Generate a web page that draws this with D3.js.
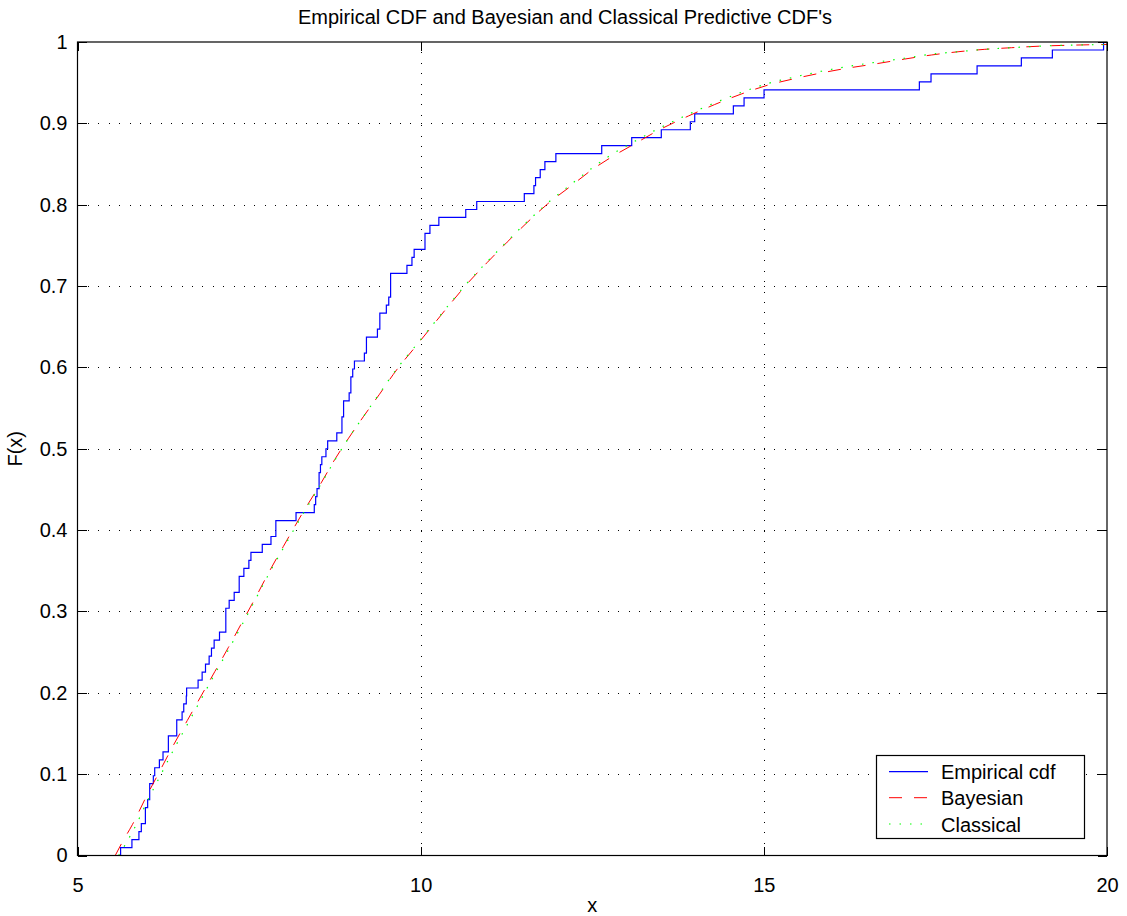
<!DOCTYPE html>
<html>
<head>
<meta charset="utf-8">
<script src="https://cdn.jsdelivr.net/npm/d3@7"></script>
<style>
  body { margin: 0; background: #fff; }
  svg { display: block; }
  text { font-family: Arial, "Liberation Sans", Helvetica, sans-serif; }
</style>
</head>
<body>
<div id="chart"></div>
<script>
// sorted sample values (ties repeated)
const empirical = [
  5.628, 5.793, 5.895, 5.930, 5.989, 5.989, 6.022, 6.052, 6.052, 6.105,
  6.125, 6.193, 6.246, 6.324, 6.324, 6.446, 6.446, 6.524, 6.548, 6.585,
  6.590, 6.757, 6.816, 6.865, 6.918, 6.952, 6.991, 7.069, 7.161, 7.161,
  7.161, 7.210, 7.283, 7.356, 7.356, 7.424, 7.497, 7.527, 7.692, 7.819,
  7.890, 7.890, 8.184, 8.450, 8.470, 8.490, 8.520, 8.520, 8.540, 8.560,
  8.620, 8.645, 8.778, 8.853, 8.853, 8.877, 8.877, 8.958, 8.983, 8.983,
  9.010, 9.035, 9.180, 9.210, 9.210, 9.370, 9.405, 9.405, 9.500, 9.535,
  9.562, 9.562, 9.562, 9.800, 9.873, 9.905, 10.063, 10.063, 10.135, 10.265,
  10.657, 10.817, 11.510, 11.650, 11.674, 11.742, 11.810, 11.970, 12.638, 13.075,
  13.506, 13.929, 13.993, 14.556, 14.712, 15.003, 17.266, 17.436, 18.107, 18.752,
  19.204, 19.950
];

// predictive cdf curves, [x, F(x)]
const bayesian = [
  [5.55, 0], [5.65, 0.016], [5.8, 0.038], [6.0, 0.072], [6.2, 0.104], [6.4, 0.136],
  [6.6, 0.166], [6.8, 0.196], [7.0, 0.226], [7.2, 0.256], [7.4, 0.287], [7.6, 0.318],
  [7.8, 0.350], [8.0, 0.380], [8.3, 0.424], [8.55, 0.458], [8.75, 0.487], [8.95, 0.513],
  [9.17, 0.540], [9.4, 0.567], [9.65, 0.597], [9.92, 0.625], [10.17, 0.651], [10.43, 0.678],
  [10.68, 0.703], [10.97, 0.729], [11.26, 0.754], [11.55, 0.778], [11.85, 0.801], [12.19, 0.823],
  [12.48, 0.842], [12.77, 0.858], [13.1, 0.874], [13.5, 0.893], [13.9, 0.909], [14.28, 0.923],
  [14.67, 0.936], [15.06, 0.947], [15.45, 0.955], [15.84, 0.962], [16.23, 0.968], [16.62, 0.973],
  [17.05, 0.979], [17.44, 0.984], [17.83, 0.988], [18.22, 0.991], [18.61, 0.993], [19.05, 0.995],
  [19.44, 0.996], [20, 0.997]
];

const classical = [
  [5.6, 0], [5.7, 0.014], [5.85, 0.037], [6.0, 0.064], [6.2, 0.097], [6.4, 0.130],
  [6.6, 0.161], [6.8, 0.192], [7.0, 0.223], [7.2, 0.253], [7.4, 0.284], [7.6, 0.316],
  [7.8, 0.348], [8.0, 0.378], [8.3, 0.422], [8.55, 0.457], [8.75, 0.486], [8.95, 0.513],
  [9.17, 0.540], [9.4, 0.568], [9.65, 0.598], [9.92, 0.626], [10.17, 0.652], [10.43, 0.679],
  [10.68, 0.704], [10.97, 0.730], [11.26, 0.755], [11.55, 0.779], [11.85, 0.802], [12.19, 0.825],
  [12.48, 0.844], [12.77, 0.861], [13.1, 0.877], [13.5, 0.895], [13.9, 0.911], [14.28, 0.925],
  [14.67, 0.938], [15.06, 0.949], [15.45, 0.957], [15.84, 0.964], [16.23, 0.970], [16.62, 0.975],
  [17.05, 0.980], [17.44, 0.985], [17.83, 0.988], [18.22, 0.991], [18.61, 0.993], [19.05, 0.995],
  [19.44, 0.996], [20, 0.997]
];

const xTicks = [5, 10, 15, 20];
const yTicks = [0, 0.1, 0.2, 0.3, 0.4, 0.5, 0.6, 0.7, 0.8, 0.9, 1];
const yTickLabels = ['0', '0.1', '0.2', '0.3', '0.4', '0.5', '0.6', '0.7', '0.8', '0.9', '1'];
const legendLabels = ['Empirical cdf', 'Bayesian', 'Classical'];

const width = 1127, height = 916;
const plotLeft = 77.5, plotRight = 1107, plotTop = 42, plotBottom = 855.5;

const svg = d3.select('#chart')
  .append('svg')
  .attr('width', width)
  .attr('height', height)
  .attr('viewBox', `0 0 ${width} ${height}`);

const x = d3.scaleLinear().domain([5, 20]).range([plotLeft, plotRight]);
const y = d3.scaleLinear().domain([0, 1]).range([plotBottom, plotTop]);

svg.append('defs').append('clipPath')
  .attr('id', 'plot-clip')
  .append('rect')
  .attr('x', plotLeft)
  .attr('y', plotTop)
  .attr('width', plotRight - plotLeft)
  .attr('height', plotBottom - plotTop);

svg.append('rect')
  .attr('x', plotLeft).attr('y', plotTop)
  .attr('width', plotRight - plotLeft).attr('height', plotBottom - plotTop)
  .attr('fill', '#fff');

// dotted grid
const grid = svg.append('g').attr('shape-rendering', 'crispEdges');
grid.selectAll('.gx')
  .data(xTicks.filter(d => d > 5 && d < 20))
  .enter().append('line')
  .attr('x1', d => Math.round(x(d)) + 0.5).attr('x2', d => Math.round(x(d)) + 0.5)
  .attr('y1', plotTop).attr('y2', plotBottom)
  .attr('stroke', '#000').attr('stroke-width', 1)
  .attr('stroke-dasharray', '1,9.4');
grid.selectAll('.gy')
  .data(yTicks.filter(d => d > 0 && d < 1))
  .enter().append('line')
  .attr('x1', plotLeft).attr('x2', plotRight)
  .attr('y1', d => Math.round(y(d)) + 0.5).attr('y2', d => Math.round(y(d)) + 0.5)
  .attr('stroke', '#000').attr('stroke-width', 1)
  .attr('stroke-dasharray', '1,9.4');

// lines
const plot = svg.append('g').attr('clip-path', 'url(#plot-clip)');

const n = empirical.length;
const stepPts = [[empirical[0], 0]];
empirical.forEach((v, i) => stepPts.push([v, (i + 1) / n]));
stepPts.push([21, 1]);

const stepLine = d3.line()
  .x(d => x(d[0]))
  .y(d => y(d[1]))
  .curve(d3.curveStepAfter);

const smoothLine = d3.line()
  .x(d => x(d[0]))
  .y(d => y(d[1]))
  .curve(d3.curveMonotoneX);

plot.append('path')
  .attr('d', stepLine(stepPts))
  .attr('fill', 'none')
  .attr('stroke', '#0000ff')
  .attr('stroke-width', 1.2);

plot.append('path')
  .attr('d', smoothLine(bayesian))
  .attr('fill', 'none')
  .attr('stroke', '#ff0000')
  .attr('stroke-width', 1)
  .attr('stroke-dasharray', '13,12');

plot.append('path')
  .attr('d', smoothLine(classical))
  .attr('fill', 'none')
  .attr('stroke', '#00ff00')
  .attr('stroke-width', 1.2)
  .attr('stroke-dasharray', '1.5,9');

// axes, ticks pointing inward
const fontSize = 20;
svg.append('g')
  .attr('transform', `translate(0,${plotBottom})`)
  .call(d3.axisBottom(x).tickValues(xTicks).tickFormat(d3.format('d'))
    .tickSize(-9).tickSizeOuter(0).tickPadding(22));
svg.append('g')
  .attr('transform', `translate(${plotLeft},0)`)
  .call(d3.axisLeft(y).tickValues(yTicks).tickFormat((d, i) => yTickLabels[i])
    .tickSize(-9).tickSizeOuter(0).tickPadding(10));
svg.append('g')
  .attr('transform', `translate(0,${plotTop})`)
  .call(d3.axisTop(x).tickValues(xTicks).tickFormat('').tickSize(-9).tickSizeOuter(0));
svg.append('g')
  .attr('transform', `translate(${plotRight},0)`)
  .call(d3.axisRight(y).tickValues(yTicks).tickFormat('').tickSize(-9).tickSizeOuter(0));

svg.selectAll('.domain').remove();
svg.selectAll('.tick line').attr('stroke', '#000').attr('shape-rendering', 'crispEdges');
svg.selectAll('.tick text')
  .attr('fill', '#000')
  .style('font-size', fontSize + 'px')
  .style('font-family', 'Arial, "Liberation Sans", sans-serif');

// box
svg.append('rect')
  .attr('x', plotLeft).attr('y', plotTop)
  .attr('width', plotRight - plotLeft).attr('height', plotBottom - plotTop)
  .attr('fill', 'none').attr('stroke', '#000').attr('stroke-width', 1.2);

// labels
svg.append('text')
  .attr('x', 565).attr('y', 23.5)
  .attr('text-anchor', 'middle')
  .style('font-size', fontSize + 'px')
  .text("Empirical CDF and Bayesian and Classical Predictive CDF's");

svg.append('text')
  .attr('x', (plotLeft + plotRight) / 2).attr('y', 912)
  .attr('text-anchor', 'middle')
  .style('font-size', fontSize + 'px')
  .text('x');

svg.append('text')
  .attr('transform', `translate(22,${(plotTop + plotBottom) / 2}) rotate(-90)`)
  .attr('text-anchor', 'middle')
  .style('font-size', fontSize + 'px')
  .text('F(x)');

// legend
const legend = svg.append('g');
legend.append('rect')
  .attr('x', 876.5).attr('y', 755.5)
  .attr('width', 208).attr('height', 83)
  .attr('fill', '#fff').attr('stroke', '#000').attr('stroke-width', 1.2);

const legendStyles = [
  { color: '#0000ff', dash: null, w: 1.2 },
  { color: '#ff0000', dash: '13,12', w: 1 },
  { color: '#00ff00', dash: '1.5,9', w: 1.2 }
];
const legendY = [771.7, 797.7, 824];

legendLabels.forEach((label, i) => {
  legend.append('line')
    .attr('x1', 889).attr('x2', 928)
    .attr('y1', legendY[i]).attr('y2', legendY[i])
    .attr('stroke', legendStyles[i].color)
    .attr('stroke-width', legendStyles[i].w)
    .attr('stroke-dasharray', legendStyles[i].dash);
  legend.append('text')
    .attr('x', 941).attr('y', legendY[i] + 7.5)
    .style('font-size', fontSize + 'px')
    .text(label);
});
</script>
</body>
</html>
